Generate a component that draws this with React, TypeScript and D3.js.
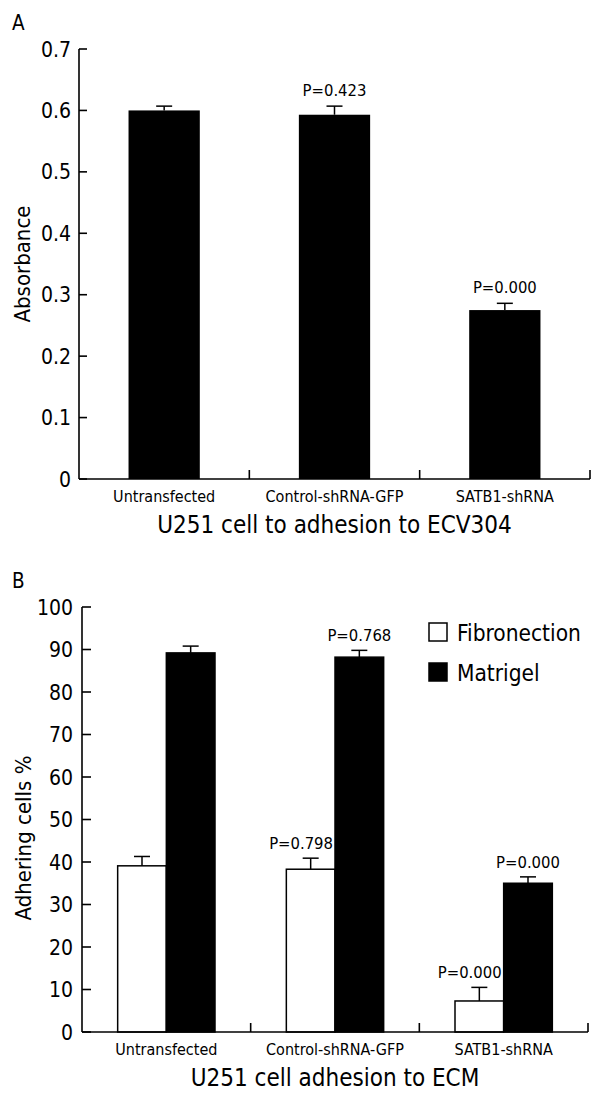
import React from 'react';
import * as d3 from 'd3';

// panel A: absorbance of U251 cells on ECV304
const categories = ['Untransfected', 'Control-shRNA-GFP', 'SATB1-shRNA'];
const absorbance = [0.6, 0.593, 0.275];
const absorbanceErr = [0.007, 0.014, 0.011];
const absorbanceP = ['', 'P=0.423', 'P=0.000'];
const yTicksA = [0, 0.1, 0.2, 0.3, 0.4, 0.5, 0.6, 0.7];

// panel B: adhesion to ECM
const series = ['Fibronection', 'Matrigel'];
const fibronectin = [39.1, 38.3, 7.3];
const fibronectinErr = [2.2, 2.6, 3.2];
const fibronectinP = ['', 'P=0.798', 'P=0.000'];
const matrigel = [89.2, 88.2, 35.0];
const matrigelErr = [1.6, 1.6, 1.5];
const matrigelP = ['', 'P=0.768', 'P=0.000'];
const yTicksB = [0, 10, 20, 30, 40, 50, 60, 70, 80, 90, 100];

const FONT = '"DejaVu Sans Condensed", "DejaVu Sans", sans-serif';
const AX = 1.6;

const ErrBar = ({cx, y0, y1}: {cx: number; y0: number; y1: number}) => (
  <g stroke="#000" strokeWidth={1.5}>
    <line x1={cx} x2={cx} y1={y0} y2={y1} />
    <line x1={cx - 8} x2={cx + 8} y1={y1} y2={y1} />
  </g>
);

const PanelA = () => {
  const left = 79, right = 590, top = 49, bottom = 479;
  const x = d3.scaleBand<string>().domain(categories).range([left, right]);
  const inner = d3.scaleBand<string>().domain(['v']).range([0, x.bandwidth()]).padding(0.41);
  const y = d3.scaleLinear().domain([0, 0.7]).range([bottom, top]);
  return (
    <g fontFamily={FONT}>
      <text x={12} y={30} fontSize={20.5}>A</text>
      {categories.map((c, i) => {
        const bx = x(c)! + inner('v')!;
        const cx = bx + inner.bandwidth() / 2;
        return (
          <g key={c}>
            <rect x={bx} y={y(absorbance[i])} width={inner.bandwidth()} height={bottom - y(absorbance[i])} fill="#000" />
            <ErrBar cx={cx} y0={y(absorbance[i])} y1={y(absorbance[i] + absorbanceErr[i])} />
            {absorbanceP[i] && (
              <text x={cx} y={y(absorbance[i] + absorbanceErr[i]) - 10} textAnchor="middle" fontSize={16.5}>{absorbanceP[i]}</text>
            )}
            <text x={x(c)! + x.bandwidth() / 2} y={bottom + 23} textAnchor="middle" fontSize={16}>{c}</text>
            <line x1={x(c)! + x.bandwidth()} x2={x(c)! + x.bandwidth()} y1={bottom} y2={bottom - 9} stroke="#000" strokeWidth={AX} />
          </g>
        );
      })}
      {yTicksA.map((t) => (
        <g key={t}>
          <line x1={left} x2={left + 8} y1={y(t)} y2={y(t)} stroke="#000" strokeWidth={AX} />
          <text x={left - 8} y={y(t)} dy="0.36em" textAnchor="end" fontSize={21}>{t === 0 ? '0' : d3.format('.1f')(t)}</text>
        </g>
      ))}
      <line x1={left} x2={left} y1={top} y2={bottom} stroke="#000" strokeWidth={AX} />
      <line x1={left} x2={right} y1={bottom} y2={bottom} stroke="#000" strokeWidth={AX} />
      <text transform={`translate(30,${(top + bottom) / 2}) rotate(-90)`} textAnchor="middle" fontSize={22}>Absorbance</text>
      <text x={(left + right) / 2} y={bottom + 54} textAnchor="middle" fontSize={24}>U251 cell to adhesion to ECV304</text>
    </g>
  );
};

const PanelB = () => {
  const left = 82, right = 588, top = 607, bottom = 1032;
  const x = d3.scaleBand<string>().domain(categories).range([left, right]);
  const inner = d3.scaleBand<string>().domain(series).range([0, x.bandwidth()]).paddingInner(0).paddingOuter(0.733);
  const y = d3.scaleLinear().domain([0, 100]).range([bottom, top]);
  const groups = [
    {name: series[0], vals: fibronectin, errs: fibronectinErr, ps: fibronectinP, fill: '#fff'},
    {name: series[1], vals: matrigel, errs: matrigelErr, ps: matrigelP, fill: '#000'},
  ];
  return (
    <g fontFamily={FONT}>
      <text x={12} y={588} fontSize={20.5}>B</text>
      {categories.map((c, i) => (
        <g key={c}>
          {groups.map((s) => {
            const bx = x(c)! + inner(s.name)!;
            const cx = bx + inner.bandwidth() / 2;
            const yt = y(s.vals[i]);
            const ye = y(s.vals[i] + s.errs[i]);
            const isFib = s.name === series[0];
            return (
              <g key={s.name}>
                <rect x={bx} y={yt} width={inner.bandwidth()} height={bottom - yt} fill={s.fill} stroke="#000" strokeWidth={1.5} />
                <ErrBar cx={cx} y0={yt} y1={ye} />
                {s.ps[i] && (
                  <text x={isFib ? bx + inner.bandwidth() - 2 : cx} y={ye - 9} textAnchor={isFib ? 'end' : 'middle'} fontSize={16.5}>{s.ps[i]}</text>
                )}
              </g>
            );
          })}
          <text x={x(c)! + x.bandwidth() / 2} y={bottom + 23} textAnchor="middle" fontSize={16}>{c}</text>
          <line x1={x(c)! + x.bandwidth()} x2={x(c)! + x.bandwidth()} y1={bottom} y2={bottom - 9} stroke="#000" strokeWidth={AX} />
        </g>
      ))}
      {yTicksB.map((t) => (
        <g key={t}>
          <line x1={left} x2={left + 9} y1={y(t)} y2={y(t)} stroke="#000" strokeWidth={AX} />
          <text x={left - 9} y={y(t)} dy="0.36em" textAnchor="end" fontSize={21}>{t}</text>
        </g>
      ))}
      <line x1={left} x2={left} y1={top} y2={bottom} stroke="#000" strokeWidth={AX} />
      <line x1={left} x2={right} y1={bottom} y2={bottom} stroke="#000" strokeWidth={AX} />
      <text transform={`translate(31,838) rotate(-90)`} textAnchor="middle" fontSize={22}>Adhering cells %</text>
      <text x={(left + right) / 2} y={bottom + 54} textAnchor="middle" fontSize={24}>U251 cell adhesion to ECM</text>
      {groups.map((s, k) => (
        <g key={s.name}>
          <rect x={429} y={623 + k * 40} width={18} height={18} fill={s.fill} stroke="#000" strokeWidth={1.5} />
          <text x={457} y={641 + k * 40} fontSize={22.5}>{s.name}</text>
        </g>
      ))}
    </g>
  );
};

export default function App() {
  return (
    <svg width={600} height={1098} style={{position: 'absolute', left: 0, top: 0, background: '#fff'}}>
      <rect width={600} height={1098} fill="#fff" />
      <PanelA />
      <PanelB />
    </svg>
  );
}
